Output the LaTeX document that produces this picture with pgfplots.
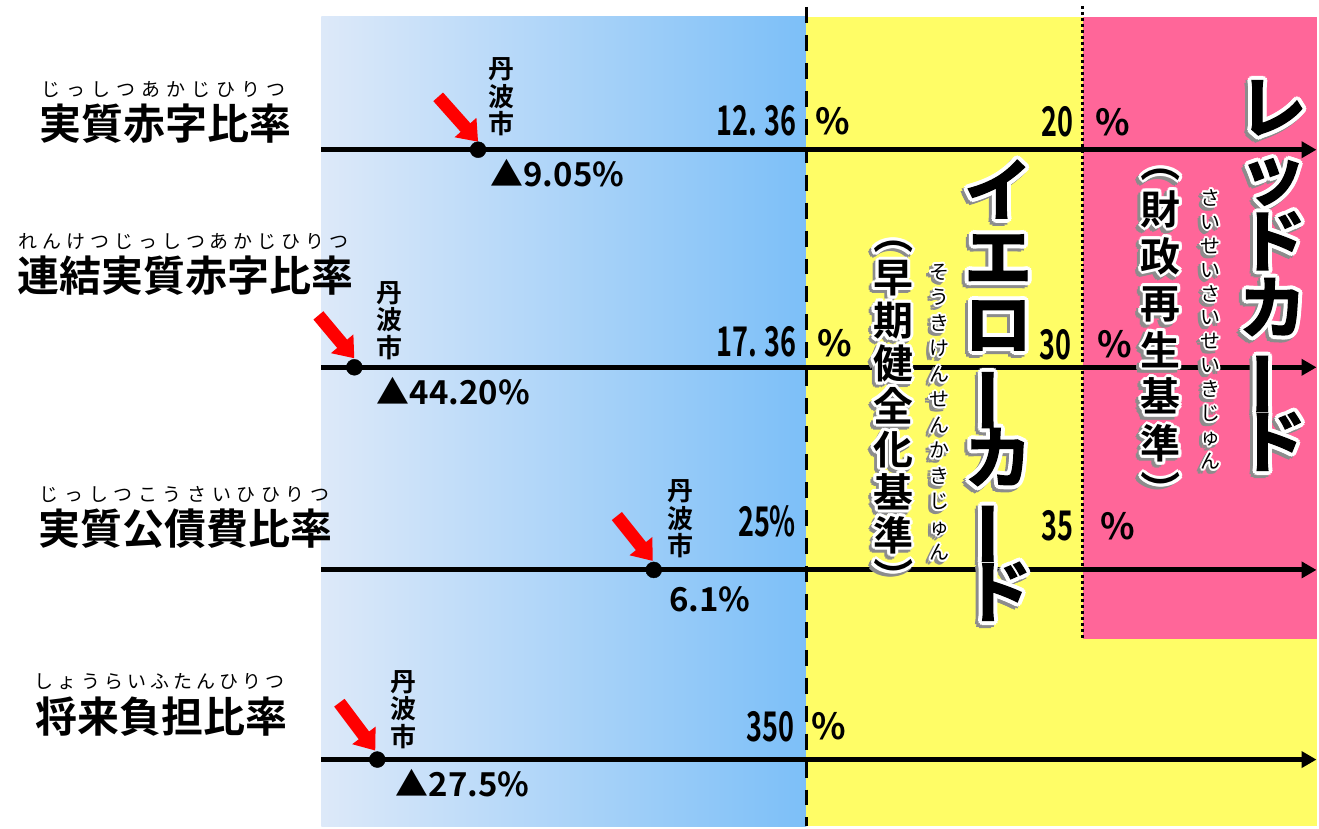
\documentclass[border=0pt]{standalone}
\usepackage{fontspec}
\usepackage{graphicx}
\usepackage{pgfplots}
\pgfplotsset{compat=1.18}
\usetikzlibrary{arrows.meta}

\setmainfont{Noto Sans CJK JP}[BoldFont={Noto Sans CJK JP Bold}]
\newfontfamily\jpb{Noto Sans CJK JP Bold}
\newfontfamily\pop{Noto Sans CJK JP Bold}[FakeBold=2]
\newfontfamily\narrow{Noto Sans CJK JP Bold}[FakeStretch=0.66]

\definecolor{blueL}{RGB}{221,233,249}
\definecolor{blueR}{RGB}{124,191,248}
\definecolor{yel}{RGB}{255,253,102}
\definecolor{pnk}{RGB}{255,102,153}

% furigana: letters spread over a given width
\newcommand\spread[2]{\makebox[#1][s]{\spreadfirst#2\relax}}
\def\spreadfirst#1{#1\spreadrest}
\def\spreadrest#1{\ifx\relax#1\else\hfill#1\expandafter\spreadrest\fi}

% vertical forms
\newcommand\vbar{\mbox{\rotatebox[origin=c]{90}{ー}}}
\newcommand\vlp{\mbox{\rotatebox[origin=c]{-90}{（}}}
\newcommand\vrp{\mbox{\rotatebox[origin=c]{-90}{）}}}

% fonts for the stacked titles
\newcommand\fbig{\pop\fontsize{68}{67}\selectfont}
\newcommand\fsubY{\jpb\fontsize{40}{43}\selectfont}
\newcommand\fsubR{\jpb\fontsize{40}{47}\selectfont}
\newcommand\ffurY{\fontsize{20}{25.5}\selectfont}
\newcommand\ffurR{\fontsize{20}{24}\selectfont}

% text with white outline and grey shadow
\newcommand\outlined[4]{%
  \foreach \a in {0,45,...,315}
    \node[font=#2, text=black!45, align=center, inner sep=0, shift={(\a:#3)}, shift={(-3pt,-3pt)}] at (#1) {#4};
  \foreach \a in {0,30,...,330}
    \node[font=#2, text=white, align=center, inner sep=0, shift={(\a:#3)}] at (#1) {#4};
  \node[font=#2, text=black, align=center, inner sep=0] at (#1) {#4};
}

\begin{document}
\lineskiplimit=-100pt
\begin{tikzpicture}
\begin{axis}[
  scale only axis, width=1319pt, height=828pt,
  xmin=0, xmax=1319, ymin=0, ymax=828, y dir=reverse,
  hide axis, clip=false,
  every node/.append style={inner sep=0pt},
]
% background bands
\fill[white] (axis cs:0,0) rectangle (axis cs:1319,828);
\shade[left color=blueL, right color=blueR] (axis cs:322,17) rectangle (axis cs:808,828);
\fill[yel] (axis cs:808,17) rectangle (axis cs:1319,828);
\fill[pnk] (axis cs:1085,17) rectangle (axis cs:1319,640);
\draw[line width=3.5pt, dash pattern=on 16pt off 12pt] (axis cs:808,7) -- (axis cs:808,828);
\draw[line width=3pt, dash pattern=on 3pt off 3pt] (axis cs:1085,6) -- (axis cs:1085,640);

% scale lines
\addplot[black, line width=5pt, -{Triangle[length=15pt,width=16pt]}] coordinates {(322,150) (1319,150)};
\addplot[black, line width=5pt, -{Triangle[length=15pt,width=16pt]}] coordinates {(322,368) (1319,368)};
\addplot[black, line width=5pt, -{Triangle[length=15pt,width=16pt]}] coordinates {(322,571) (1319,571)};
\addplot[black, line width=5pt, -{Triangle[length=15pt,width=16pt]}] coordinates {(322,761) (1319,761)};

% Tamba city positions
\addplot[only marks, mark=*, mark size=8pt, black] coordinates {(479,150) (355,368) (655,571) (378,761)};

% red pointers
\draw[red, line width=13pt, -{Triangle[length=19pt,width=28pt]}] (axis cs:439,97) -- (axis cs:479,142);
\draw[red, line width=13pt, -{Triangle[length=19pt,width=28pt]}] (axis cs:319,316) -- (axis cs:355,359);
\draw[red, line width=13pt, -{Triangle[length=19pt,width=28pt]}] (axis cs:618,517) -- (axis cs:654,562);
\draw[red, line width=13pt, -{Triangle[length=19pt,width=28pt]}] (axis cs:340,704) -- (axis cs:376,752);

% row titles
\node[font=\jpb\fontsize{42}{42}\selectfont] at (axis cs:166,124) {実質赤字比率};
\node[font=\jpb\fontsize{42}{42}\selectfont] at (axis cs:186,276) {連結実質赤字比率};
\node[font=\jpb\fontsize{42}{42}\selectfont] at (axis cs:186,530) {実質公債費比率};
\node[font=\jpb\fontsize{42}{42}\selectfont] at (axis cs:162,718) {将来負担比率};
\node[font=\fontsize{19}{19}\selectfont] at (axis cs:164,90) {\spread{245pt}{じっしつあかじひりつ}};
\node[font=\fontsize{19}{19}\selectfont] at (axis cs:184,242) {\spread{330pt}{れんけつじっしつあかじひりつ}};
\node[font=\fontsize{19}{19}\selectfont] at (axis cs:185,495) {\spread{290pt}{じっしつこうさいひひりつ}};
\node[font=\fontsize{19}{19}\selectfont] at (axis cs:160,683) {\spread{250pt}{しょうらいふたんひりつ}};

% city labels
\node[font=\jpb\fontsize{26}{27.5}\selectfont, align=center] at (axis cs:502,97) {丹\\波\\市};
\node[font=\jpb\fontsize{26}{27.5}\selectfont, align=center] at (axis cs:390,321) {丹\\波\\市};
\node[font=\jpb\fontsize{26}{27.5}\selectfont, align=center] at (axis cs:682,520) {丹\\波\\市};
\node[font=\jpb\fontsize{26}{27.5}\selectfont, align=center] at (axis cs:404,711) {丹\\波\\市};

% city values
\node[font=\jpb\fontsize{33}{33}\selectfont, anchor=west] at (axis cs:488,173) {▲9.05\%};
\node[font=\jpb\fontsize{33}{33}\selectfont, anchor=west] at (axis cs:374,392) {▲44.20\%};
\node[font=\jpb\fontsize{33}{33}\selectfont, anchor=west] at (axis cs:667,600) {6.1\%};
\node[font=\jpb\fontsize{33}{33}\selectfont, anchor=west] at (axis cs:393,785) {▲27.5\%};

% thresholds
\node[font=\narrow\fontsize{41}{41}\selectfont, anchor=east] at (axis cs:801,121) {12.\hspace{7pt}36};
\node[font=\narrow\fontsize{41}{41}\selectfont, anchor=east] at (axis cs:801,342) {17.\hspace{7pt}36};
\node[font=\narrow\fontsize{41}{41}\selectfont, anchor=east] at (axis cs:801,522) {25\%};
\node[font=\narrow\fontsize{41}{41}\selectfont, anchor=east] at (axis cs:799,728) {350};
\node[font=\narrow\fontsize{41}{41}\selectfont, anchor=east] at (axis cs:1079,122) {20};
\node[font=\narrow\fontsize{41}{41}\selectfont, anchor=east] at (axis cs:1077,345) {30};
\node[font=\narrow\fontsize{41}{41}\selectfont, anchor=east] at (axis cs:1079,527) {35};
\node[font=\jpb\fontsize{36}{36}\selectfont] at (axis cs:834,121) {\%};
\node[font=\jpb\fontsize{36}{36}\selectfont] at (axis cs:836,344) {\%};
\node[font=\jpb\fontsize{36}{36}\selectfont] at (axis cs:830,728) {\%};
\node[font=\jpb\fontsize{36}{36}\selectfont] at (axis cs:1115,122) {\%};
\node[font=\jpb\fontsize{36}{36}\selectfont] at (axis cs:1117,345) {\%};
\node[font=\jpb\fontsize{36}{36}\selectfont] at (axis cs:1120,527) {\%};

% anchors for the outlined vertical titles
\coordinate (Ybig) at (axis cs:1000,391);
\coordinate (Ysub) at (axis cs:895,407);
\coordinate (Yfur) at (axis cs:941,413);
\coordinate (Rbig) at (axis cs:1275,276);
\coordinate (Rsub) at (axis cs:1163,327);
\coordinate (Rfur) at (axis cs:1213,330);
\end{axis}

\outlined{Ybig}{\fbig}{4pt}{イ\\エ\\ロ\\\vbar\\カ\\\vbar\\ド}
\outlined{Ysub}{\fsubY}{3pt}{\vlp\\早\\期\\健\\全\\化\\基\\準\\\vrp}
\outlined{Yfur}{\ffurY}{2pt}{そ\\う\\き\\け\\ん\\せ\\ん\\か\\き\\じ\\ゅ\\ん}
\outlined{Rbig}{\fbig}{4pt}{レ\\ッ\\ド\\カ\\\vbar\\ド}
\outlined{Rsub}{\fsubR}{3pt}{\vlp\\財\\政\\再\\生\\基\\準\\\vrp}
\outlined{Rfur}{\ffurR}{2pt}{さ\\い\\せ\\い\\さ\\い\\せ\\い\\き\\じ\\ゅ\\ん}
\end{tikzpicture}
\end{document}
